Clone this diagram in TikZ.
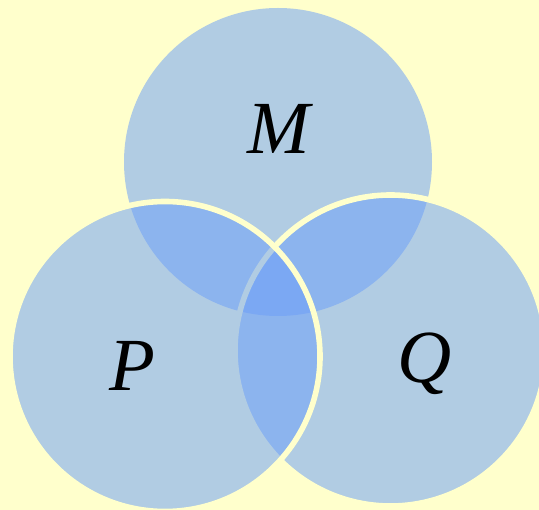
\documentclass[tikz,border=0pt]{standalone}
\usepackage{fontspec}
\setmainfont{Liberation Serif}
\definecolor{bgyellow}{RGB}{255,255,204}
\definecolor{blobblue}{RGB}{108,159,249}
\begin{document}
\begin{tikzpicture}[x=1pt,y=-1pt,
  setcircle/.style={circle, inner sep=0pt, outer sep=0pt, fill=blobblue, fill opacity=0.53},
  rimmed/.style={setcircle, draw=bgyellow, draw opacity=1, line width=5.6pt},
  setlabel/.style={anchor=base, inner sep=0pt, font=\fontsize{75}{75}\selectfont\itshape}]
\fill[bgyellow] (0,0) rectangle (539,510);
\useasboundingbox (0,0) rectangle (539,510);
\node[setcircle, minimum size=308pt] (circM) at (278,162) {};
\node[rimmed, minimum size=311pt] (circQ) at (390.5,350.5) {};
\node[rimmed, minimum size=310pt] (circP) at (165,356.5) {};
\node[setlabel] (labM) at (279,154) {M};
\node[setlabel] (labP) at (132,390.5) {P};
\node[setlabel] (labQ) at (425,383) {Q};
\end{tikzpicture}
\end{document}
